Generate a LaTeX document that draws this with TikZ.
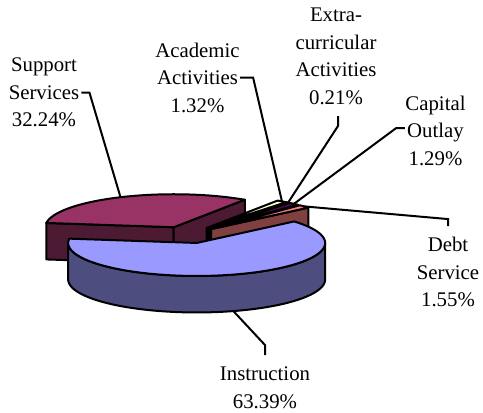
\documentclass[tikz,border=0pt]{standalone}
\usepackage{fontspec}
\setmainfont{Liberation Serif}
\usetikzlibrary{calc}
\definecolor{instTop}{HTML}{9999FF}
\definecolor{instSide}{HTML}{4D4D80}
\definecolor{supTop}{HTML}{993366}
\definecolor{supSide}{HTML}{4D1A33}
\definecolor{acaTop}{HTML}{FFFFCC}
\definecolor{acaSide}{HTML}{808066}
\definecolor{extTop}{HTML}{CCFFFF}
\definecolor{extSide}{HTML}{668080}
\definecolor{capTop}{HTML}{660066}
\definecolor{capSide}{HTML}{330033}
\definecolor{debTop}{HTML}{FF8080}
\definecolor{debSide}{HTML}{804040}
\def\CX{187.3}\def\CY{234.9}\def\RX{128.5}\def\RY{33}\def\DP{36.5}\def\EX{0.255}
\newcommand\slicecenter[1]{%
  \pgfmathsetmacro\ox{\CX+\EX*\RX*cos(#1)}%
  \pgfmathsetmacro\oy{\CY-\EX*\RY*sin(#1)}}
% radial face at angle #1, colour #2
\newcommand\radialface[2]{%
  \filldraw[pieline,fill=#2] (\ox,\oy) -- ({\ox+\RX*cos(#1)},{\oy-\RY*sin(#1)})
   -- ({\ox+\RX*cos(#1)},{\oy-\RY*sin(#1)+\DP}) -- ({\ox},{\oy+\DP}) -- cycle;}
% top face from #1 to #2, colour #3
\newcommand\topface[3]{%
  \filldraw[pieline,fill=#3] (\ox,\oy) -- plot[domain=#1:#2,samples=80,variable=\q]
   ({\ox+\RX*cos(\q)},{\oy-\RY*sin(\q)}) -- cycle;}
\begin{document}
\begin{tikzpicture}[x=1pt,y=-1pt,
  pieline/.style={draw=black,line width=2pt,line join=round},
  lead/.style={draw=black,line width=2pt,line join=miter},
  lbl/.style={font=\fontsize{20.8}{27.5}\selectfont,inner sep=0pt,anchor=base,text=black}]
\useasboundingbox (0,0) rectangle (483,413);
\fill[white] (0,0) rectangle (483,413);
% Support Services 56.43 -> 172.5
\slicecenter{114.47}
\coordinate (rimS) at ({\ox+\RX*cos(114.47)},{\oy-\RY*sin(114.47)});
\radialface{172.5}{supSide}
\radialface{56.43}{supSide}
\topface{56.43}{172.5}{supTop}
% Academic 51.68 -> 56.43
\slicecenter{54.06}
\coordinate (rimA) at ({\ox+\RX*cos(54.06)},{\oy-\RY*sin(54.06)});
\radialface{51.68}{acaSide}
\topface{51.68}{56.43}{acaTop}
% Extra-curricular 50.92 -> 51.68
\slicecenter{51.30}
\coordinate (rimX) at ({\ox+\RX*cos(51.30)},{\oy-\RY*sin(51.30)});
\radialface{50.92}{extSide}
\topface{50.92}{51.68}{extTop}
% Capital Outlay 46.28 -> 50.92
\slicecenter{48.60}
\coordinate (rimK) at ({\ox+\RX*cos(48.60)},{\oy-\RY*sin(48.60)});
\radialface{46.28}{capSide}
\topface{46.28}{50.92}{capTop}
% Debt Service 40.7 -> 46.28
\slicecenter{43.49}
\coordinate (rimD) at ({\ox+\RX*cos(43.49)},{\oy-\RY*sin(43.49)});
\radialface{40.7}{debSide}
\topface{40.7}{46.28}{debTop}
% Instruction 172.5 -> 400.7
\slicecenter{286.6}
\coordinate (rimI) at ({\ox+\RX*cos(286.6)},{\oy-\RY*sin(286.6)+\DP});
\filldraw[pieline,fill=instSide] plot[domain=180:360,samples=80,variable=\q]
   ({\ox+\RX*cos(\q)},{\oy-\RY*sin(\q)}) -- plot[domain=360:180,samples=80,variable=\q]
   ({\ox+\RX*cos(\q)},{\oy-\RY*sin(\q)+\DP}) -- cycle;
\topface{172.5}{400.7}{instTop}
% labels
\node[lbl] (sup1) at (44,71.7) {Support};
\node[lbl] (sup2) at (44,99.3) {Services};
\node[lbl] (sup3) at (44,126) {32.24\%};
\node[lbl] (aca1) at (197.5,57) {Academic};
\node[lbl] (aca2) at (197.5,84.5) {Activities};
\node[lbl] (aca3) at (197.5,112) {1.32\%};
\node[lbl] (ext1) at (336,21.7) {Extra-};
\node[lbl] (ext2) at (336,49.3) {curricular};
\node[lbl] (ext3) at (336,76.7) {Activities};
\node[lbl] (ext4) at (336,104) {0.21\%};
\node[lbl] (cap1) at (435.5,110) {Capital};
\node[lbl] (cap2) at (435.5,137.7) {Outlay};
\node[lbl] (cap3) at (435.5,165) {1.29\%};
\node[lbl] (deb1) at (448,251.7) {Debt};
\node[lbl] (deb2) at (448,279) {Service};
\node[lbl] (deb3) at (448,306.7) {1.55\%};
\node[lbl] (ins1) at (265,380) {Instruction};
\node[lbl] (ins2) at (265,408) {63.39\%};
% leader lines
\draw[lead] ([xshift=2pt]sup2.east) -- ++(8,0) -- (rimS);
\draw[lead] ([xshift=2pt]aca2.east) -- ++(13,0) -- (rimA);
\draw[lead] ([xshift=2pt,yshift=-12pt]ext4.base) -- ([xshift=2pt,yshift=-22pt]ext4.base) -- (rimX);
\draw[lead] ([xshift=-2pt,yshift=9.5pt]cap2.base west) -- ++(-9,0) -- (rimK);
\draw[lead] (rimD) -- ([yshift=18pt]deb1.north) -- ([yshift=11pt]deb1.north);
\draw[lead] (rimI) -- ([yshift=21pt]ins1.north) -- ([yshift=11pt]ins1.north);
\end{tikzpicture}
\end{document}
